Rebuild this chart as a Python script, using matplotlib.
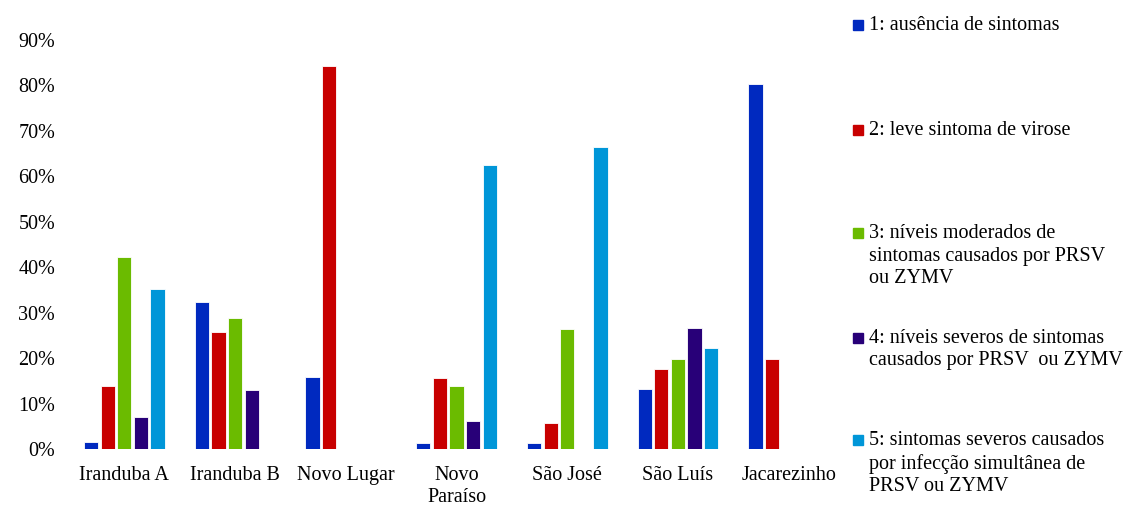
import matplotlib
matplotlib.use("Agg")
import matplotlib.pyplot as plt
import numpy as np
from matplotlib.patches import Rectangle
from matplotlib.ticker import PercentFormatter

plt.rcParams['font.family'] = ['Liberation Serif', 'DejaVu Serif']

categories = ["Iranduba A", "Iranduba B", "Novo Lugar", "Novo\nParaíso",
              "São José", "São Luís", "Jacarezinho"]
series_names = [
    "1: ausência de sintomas",
    "2: leve sintoma de virose",
    "3: níveis moderados de\nsintomas causados por PRSV\nou ZYMV",
    "4: níveis severos de sintomas\ncausados por PRSV  ou ZYMV",
    "5: sintomas severos causados\npor infecção simultânea de\nPRSV ou ZYMV",
]
s1 = [1.6, 32.3, 15.9, 1.3, 1.3, 13.1, 80.3]
s2 = [13.9, 25.8, 84.2, 15.7, 5.8, 17.7, 19.9]
s3 = [42.2, 28.9, 0.0, 13.9, 26.4, 19.9, 0.0]
s4 = [7.0, 12.9, 0.0, 6.1, 0.0, 26.7, 0.0]
s5 = [35.2, 0.0, 0.0, 62.5, 66.5, 22.2, 0.0]
series = [s1, s2, s3, s4, s5]
colors = ["#0029BF", "#C80000", "#6BBB00", "#280078", "#0096D8"]

W, H = 1132, 507
fig = plt.figure(figsize=(W / 100, H / 100), dpi=100)
ax = fig.add_axes([69 / W, 1 - 449 / H, (844 - 69) / W, (449 - 40) / H])

x = np.arange(len(categories))
slot = 0.15
bw = 0.128
for i, (vals, c) in enumerate(zip(series, colors)):
    ax.bar(x + (i - 2) * slot, vals, width=bw, color=c,
           edgecolor="white", linewidth=0.6)

ax.set_xlim(-0.5, len(categories) - 0.5)
ax.set_ylim(0, 90)
ax.set_yticks(np.arange(0, 91, 10))
ax.yaxis.set_major_formatter(PercentFormatter(decimals=0))
ax.set_xticks(x)
ax.set_xticklabels(categories, fontsize=14.5, linespacing=1.25)
ax.tick_params(axis='y', labelsize=14.5, length=0, pad=10)
ax.tick_params(axis='x', length=0, pad=12)
for s in ax.spines.values():
    s.set_visible(False)

# legend (manual, right side)
legend_y = [25, 130, 233, 338, 440]
for name, c, yy in zip(series_names, colors, legend_y):
    fig.patches.append(Rectangle((853 / W, 1 - (yy + 5) / H), 10 / W, 10 / H,
                                 transform=fig.transFigure, color=c))
    fig.text(869 / W, 1 - (yy - 9) / H, name, fontsize=14.5, va='top',
             ha='left', linespacing=1.25)

fig.savefig("out.png", dpi=100)
